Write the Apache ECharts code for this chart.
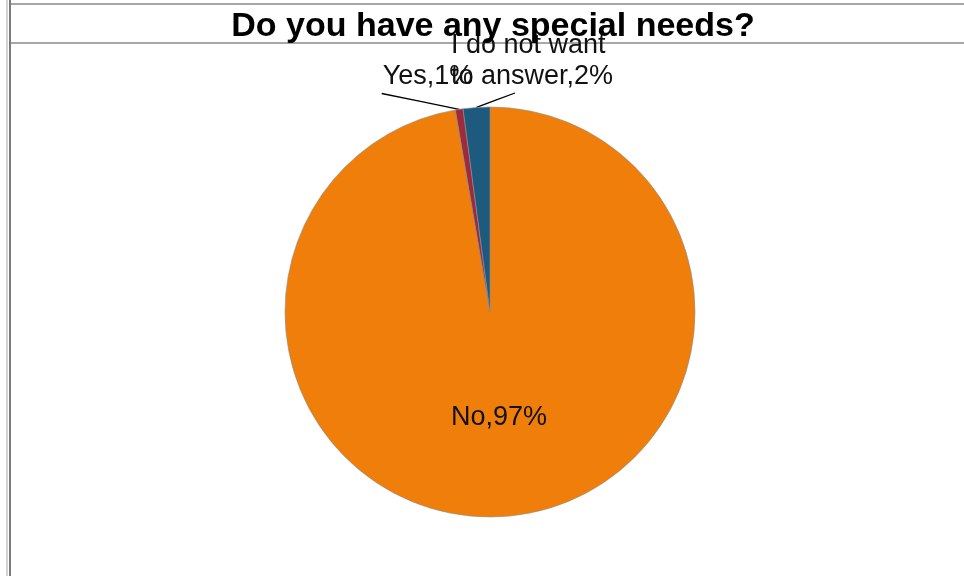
<!DOCTYPE html>
<html><head><meta charset="utf-8">
<script src="https://cdn.jsdelivr.net/npm/echarts@6/dist/echarts.min.js"></script>
<style>html,body{margin:0;padding:0;background:#fff}#c{width:964px;height:576px}</style>
</head><body><div id="c"></div>
<script>
const categories = ['No', 'Yes', 'I do not want to answer'];
const values = [97.3, 0.6, 2.1];
const colors = ['#EF7F0A', '#9E2A3C', '#1E5A7E'];
const titleText = 'Do you have any special needs?';

const chart = echarts.init(document.getElementById('c'), null, {renderer: 'canvas'});
const labelSpots = {1: [428, 77], 2: [532, 61]};

const data = categories.map((name, i) => {
  const item = {name: name, value: values[i], itemStyle: {color: colors[i]}};
  if (i === 0) {
    item.label = {position: 'inside'};
    item.labelLine = {show: false};
  } else if (i === 2) {
    item.label = {width: 170, overflow: 'break', lineHeight: 31};
  }
  return item;
});

chart.setOption({
  animation: false,
  backgroundColor: '#ffffff',
  title: {
    text: titleText,
    left: 488, top: 5, textAlign: 'center',
    textStyle: {fontFamily: 'Liberation Sans, Arial, sans-serif', fontWeight: 'bold', fontSize: 34, color: '#000'}
  },
  graphic: [
    {type: 'line', z: 0, shape: {x1: 10, y1: 4, x2: 964, y2: 4}, style: {stroke: '#8a8a8a', lineWidth: 1.5}},
    {type: 'line', z: 0, shape: {x1: 10, y1: 43, x2: 964, y2: 43}, style: {stroke: '#8a8a8a', lineWidth: 1.5}},
    {type: 'line', z: 0, shape: {x1: 7, y1: 0, x2: 7, y2: 576}, style: {stroke: '#d4d4d4', lineWidth: 2}},
    {type: 'line', z: 0, shape: {x1: 10, y1: 0, x2: 10, y2: 576}, style: {stroke: '#7a7a7a', lineWidth: 2}}
  ],
  series: [{
    type: 'pie',
    center: [490, 312],
    radius: 205,
    startAngle: 90,
    clockwise: true,
    percentPrecision: 0,
    avoidLabelOverlap: false,
    itemStyle: {borderColor: '#8f8f8f', borderWidth: 0.6},
    label: {
      show: true,
      position: 'outside',
      formatter: '{b},{d}%',
      fontFamily: 'Liberation Sans, Arial, sans-serif',
      fontSize: 27,
      color: '#111'
    },
    labelLine: {show: true, length: 10, length2: 10, lineStyle: {color: '#000', width: 1.3}},
    labelLayout: function (p) {
      const spot = labelSpots[p.dataIndex];
      if (!spot) return {};
      const w = p.labelRect.width, h = p.labelRect.height;
      const left = spot[0] - w / 2, bottom = spot[1] + h / 2;
      const end = p.dataIndex === 1 ? [left - 1, bottom + 3] : [left + w * 0.4, bottom + 1];
      const out = {x: spot[0], y: spot[1], align: 'center', verticalAlign: 'middle'};
      if (p.labelLinePoints && p.labelLinePoints[0]) {
        const a = p.labelLinePoints[0];
        out.labelLinePoints = [a, [(a[0] + end[0]) / 2, (a[1] + end[1]) / 2], end];
      }
      return out;
    },
    data: data
  }]
});
</script></body></html>
